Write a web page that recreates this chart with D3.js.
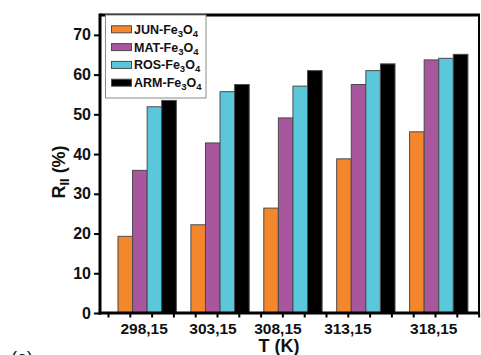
<!DOCTYPE html>
<html><head><meta charset="utf-8">
<script src="https://cdn.jsdelivr.net/npm/d3@7"></script>
<style>
html,body{margin:0;padding:0;background:#fff;}
svg{display:block;font-family:"Liberation Sans",Arial,sans-serif;font-weight:bold;}
</style></head>
<body>
<svg id="chart" width="481" height="355"></svg>
<script>
// ---- data ----
const categories = ["298,15", "303,15", "308,15", "313,15", "318,15"];
const seriesNames = ["JUN", "MAT", "ROS", "ARM"];
const JUN = [19.3, 22.2, 26.4, 38.8, 45.6];
const MAT = [35.9, 42.8, 49.1, 57.5, 63.7];
const ROS = [51.9, 55.7, 57.1, 61.0, 64.1];
const ARM = [53.5, 57.5, 61.0, 62.7, 65.1];
const yTicks = [0, 10, 20, 30, 40, 50, 60, 70];

// ---- layout / style ----
const colors = ["#F4862C", "#A8569E", "#5AC7DB", "#000000"];
const labelNudge = [-3, -7, -15, -18, -5];
const L = 100, R = 479, T = 15, B = 313;

const svg = d3.select("#chart");
const values = [JUN, MAT, ROS, ARM];

const y = d3.scaleLinear().domain([0, 75]).range([B, T]);
const x = d3.scaleBand().domain(categories).range([110.7, 475.2])
  .paddingInner(0.2).paddingOuter(0.1);
const xs = d3.scaleBand().domain(seriesNames).range([0, x.bandwidth()]);

// bars
const g = svg.append("g");
categories.forEach((c, i) => {
  seriesNames.forEach((s, j) => {
    const v = values[j][i];
    g.append("rect")
      .attr("x", x(c) + xs(s))
      .attr("y", y(v))
      .attr("width", xs.bandwidth())
      .attr("height", y(0) - y(v))
      .attr("fill", colors[j])
      .attr("stroke", "#4a4a4a")
      .attr("stroke-width", 1);
  });
});

// frame top & right
svg.append("line").attr("x1", L).attr("x2", R + 1).attr("y1", T).attr("y2", T)
  .attr("stroke", "#000").attr("stroke-width", 3);
svg.append("line").attr("x1", R).attr("x2", R).attr("y1", T).attr("y2", B)
  .attr("stroke", "#000").attr("stroke-width", 2);

// y axis
const yMinor = d3.range(5, 75, 10);
const ay = svg.append("g").attr("transform", `translate(${L},0)`);
ay.call(d3.axisLeft(y).tickValues(yMinor).tickSize(3).tickFormat(""));
ay.call(d3.axisLeft(y).tickValues(yTicks).tickSize(6).tickPadding(3).tickFormat(d3.format("d")));
ay.selectAll(".domain").remove();
ay.selectAll(".tick line").attr("stroke", "#000").attr("stroke-width", 2);
ay.selectAll(".tick text").attr("font-size", 16).attr("font-weight", "bold")
  .attr("font-family", "Liberation Sans, Arial, sans-serif").attr("fill", "#111");
svg.append("line").attr("x1", L).attr("x2", L).attr("y1", T - 1.5).attr("y2", B + 1.5)
  .attr("stroke", "#000").attr("stroke-width", 3);

// x axis minor ticks
const xt = d3.scaleLinear().domain([0, 17]).range([108, 478.6]);
const ax = svg.append("g").attr("transform", `translate(0,${B})`);
ax.call(d3.axisBottom(xt).tickValues(d3.range(0, 18)).tickSize(4.5).tickFormat(""));
ax.selectAll(".domain").remove();
ax.selectAll(".tick line").attr("stroke", "#000").attr("stroke-width", 2);
svg.append("line").attr("x1", L - 1.5).attr("x2", R + 1).attr("y1", B).attr("y2", B)
  .attr("stroke", "#000").attr("stroke-width", 3);

// x tick labels
svg.append("g").selectAll("text").data(categories).join("text")
  .attr("x", (d, i) => x(d) + x.bandwidth() / 2 + labelNudge[i])
  .attr("y", 334)
  .attr("text-anchor", "middle")
  .attr("font-size", 15.5)
  .attr("fill", "#111")
  .text(d => d);

// axis titles
svg.append("text").attr("x", 279).attr("y", 352).attr("text-anchor", "middle")
  .attr("font-size", 18).attr("fill", "#111").text("T (K)");

const yl = svg.append("text")
  .attr("transform", "translate(65,172) rotate(-90)")
  .attr("text-anchor", "middle").attr("font-size", 18).attr("fill", "#111");
yl.append("tspan").text("R");
yl.append("tspan").attr("font-size", 13).attr("dy", 4).text("II");
yl.append("tspan").attr("dy", -4).text(" (%)");

// (a) label partially visible
svg.append("text").attr("x", 11).attr("y", 364).attr("font-size", 18)
  .attr("font-weight", "normal").attr("fill", "#111").text("(a)");

// legend
const lg = svg.append("g");
lg.append("rect").attr("x", 105.5).attr("y", T).attr("width", 100.5).attr("height", 83)
  .attr("fill", "#fff").attr("stroke", "#8a8a8a").attr("stroke-width", 1);
seriesNames.forEach((s, j) => {
  const cy = 29.3 + j * 17.8;
  lg.append("rect").attr("x", 111.5).attr("y", cy - 3.5).attr("width", 20).attr("height", 7)
    .attr("fill", colors[j]).attr("stroke", "#4a4a4a").attr("stroke-width", 1);
  const t = lg.append("text").attr("x", 134).attr("y", cy + 4.5)
    .attr("font-size", 12.5).attr("fill", "#111");
  t.append("tspan").text(s + "-Fe");
  t.append("tspan").attr("font-size", 9.5).attr("dy", 3).text("3");
  t.append("tspan").attr("dy", -3).text("O");
  t.append("tspan").attr("font-size", 9.5).attr("dy", 3).text("4");
});
</script>
</body></html>
